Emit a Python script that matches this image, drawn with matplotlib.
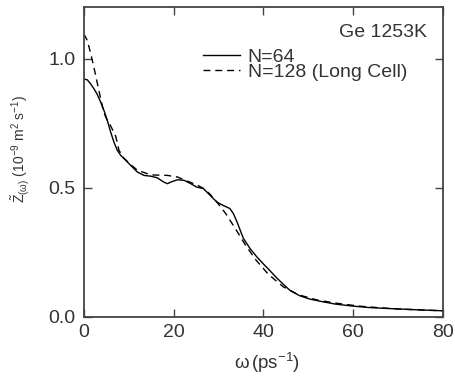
import numpy as np
import matplotlib
matplotlib.use("Agg")
import matplotlib.pyplot as plt

plt.rcParams['font.family'] = ['Liberation Sans', 'DejaVu Sans']
plt.rcParams['mathtext.fontset'] = 'custom'
plt.rcParams['mathtext.rm'] = 'Liberation Sans'
plt.rcParams['mathtext.it'] = 'Liberation Sans'

# values
omega_64 = [0, 0.74, 1.49, 2.23, 2.97, 3.71, 4.46, 5.2, 5.94, 6.69, 7.43, 8.17, 8.91,
            10.4, 11.9, 13.4, 14.9, 16.3, 17.8, 18.6, 19.3, 20.8, 22.3, 23.8, 25.1,
            26.6, 28.1, 29.6, 31.0, 32.5, 33.3, 34.1, 35.5, 37.0, 38.5, 40.0, 41.4,
            42.9, 44.4, 45.9, 48.1, 50.4, 52.6, 56.0, 60.0, 64.0, 68.9, 74.0, 80.0]
z_64 = [0.921, 0.918, 0.902, 0.883, 0.861, 0.832, 0.799, 0.761, 0.716, 0.676, 0.645,
        0.626, 0.613, 0.587, 0.561, 0.548, 0.545, 0.539, 0.522, 0.516, 0.522, 0.531,
        0.529, 0.516, 0.503, 0.497, 0.471, 0.445, 0.432, 0.420, 0.400, 0.368, 0.305,
        0.265, 0.233, 0.205, 0.180, 0.152, 0.127, 0.103, 0.082, 0.069, 0.061, 0.050,
        0.042, 0.036, 0.032, 0.028, 0.024]

omega_128 = [0, 0.74, 1.49, 2.23, 2.97, 3.71, 4.46, 5.2, 5.94, 7.06, 7.8, 8.9, 10.4,
             11.9, 14.9, 18.6, 20.8, 22.3, 25.3, 26.7, 28.1, 29.6, 31.6, 33.8, 36.0,
             38.3, 41.1, 44.4, 47.8, 51.9, 56.0, 61.3, 68.0, 74.0, 80.0]
z_128 = [1.095, 1.070, 1.020, 0.965, 0.905, 0.845, 0.790, 0.760, 0.740, 0.700, 0.645,
         0.615, 0.590, 0.568, 0.550, 0.548, 0.542, 0.531, 0.510, 0.497, 0.475, 0.445,
         0.400, 0.340, 0.278, 0.221, 0.165, 0.117, 0.086, 0.066, 0.054, 0.042, 0.033,
         0.028, 0.024]

fig = plt.figure(figsize=(4.55, 3.79), dpi=100)
ax = fig.add_axes([0.1846, 0.1636, 0.789, 0.818])

ax.plot(omega_64, z_64, color='black', lw=1.0, label='N=64')
ax.plot(omega_128, z_128, color='black', lw=1.0, dashes=(5, 3.5), label='N=128 (Long Cell)')

ax.set_xlim(0, 80)
ax.set_ylim(0, 1.2)
ax.set_xticks([0, 20, 40, 60, 80])
ax.set_yticks([0.0, 0.5, 1.0])
ax.set_yticklabels(['0.0', '0.5', '1.0'])

for s in ax.spines.values():
    s.set_color('#444444')
    s.set_linewidth(1.3)
ax.tick_params(direction='in', length=6, width=1.0, color='#444444',
               top=True, right=True, labelsize=14, labelcolor='#333333')
ax.tick_params(axis='x', pad=5)
ax.tick_params(axis='y', pad=6)

ax.set_xlabel(r'$\omega\,$(ps$^{-1}$)', fontsize=13.5, color='#333333')
ax.xaxis.set_label_coords(0.51, -0.11)
ax.set_ylabel(r'$\tilde{Z}_{(\omega)}$ (10$^{-9}$ m$^2$ s$^{-1}$)', fontsize=10,
              color='#333333')
ax.yaxis.set_label_coords(-0.145, 0.543)

ax.text(0.955, 0.903, 'Ge 1253K', transform=ax.transAxes, ha='right', va='baseline',
        fontsize=14, color='#333333')
ax.legend(loc='upper left', bbox_to_anchor=(0.331, 0.868), frameon=False, fontsize=14,
          handlelength=1.9, handletextpad=0.4, labelspacing=-0.1, borderpad=0,
          borderaxespad=0, labelcolor='#333333')

fig.savefig('out.png', dpi=100)
